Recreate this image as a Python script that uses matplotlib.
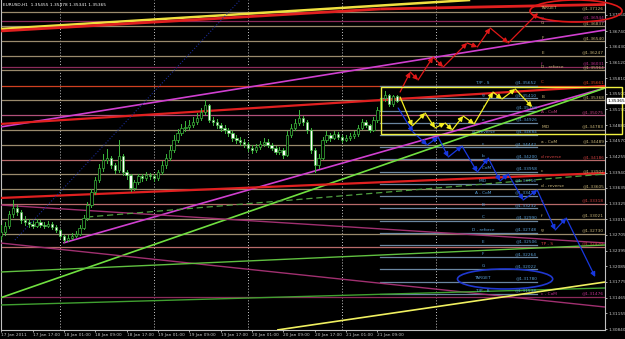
import matplotlib
matplotlib.use("Agg")
import matplotlib.pyplot as plt
from matplotlib.patches import Ellipse, Rectangle
from matplotlib.transforms import blended_transform_factory

# ---------------- data ----------------
title = "EURUSD,H1  1.35455 1.35478 1.35341 1.35365"
last_price = 1.35365

opens = [1.32680, 1.32763, 1.32882, 1.33120, 1.33239, 1.33159,
         1.33001, 1.32961, 1.32922, 1.32882, 1.32961, 1.32902, 1.32882, 1.32922, 1.32862,
         1.32803, 1.32684, 1.32605, 1.32644, 1.32684,
         1.32723, 1.32842, 1.33041, 1.33298, 1.33555,
         1.33793, 1.34031, 1.34189, 1.34229, 1.34090, 1.33991, 1.34268, 1.33951,
         1.33892, 1.33635,
         1.33753, 1.33872, 1.33833, 1.33892, 1.33872, 1.33833,
         1.33951, 1.34090, 1.34229, 1.34387, 1.34585, 1.34724, 1.34823,
         1.34842, 1.34882, 1.34941, 1.35021, 1.35139, 1.35278,
         1.34981, 1.34941, 1.34882, 1.34823, 1.34783, 1.34724, 1.34625, 1.34585,
         1.34545, 1.34506, 1.34427, 1.34387, 1.34446, 1.34506, 1.34545, 1.34486, 1.34427, 1.34347,
         1.34387, 1.34288, 1.34684, 1.34823, 1.34922, 1.35021,
         1.34941, 1.34783, 1.34387, 1.34090,
         1.34229, 1.34585, 1.34684, 1.34625, 1.34704, 1.34644, 1.34585, 1.34625, 1.34664,
         1.34704, 1.34823, 1.34941, 1.34882, 1.34783,
         1.34981, 1.35179, 1.35417, 1.35476, 1.35298, 1.35455]
closes = [1.32763, 1.32882, 1.33120, 1.33239, 1.33159, 1.33001,
          1.32961, 1.32922, 1.32882, 1.32961, 1.32902, 1.32882, 1.32922, 1.32862, 1.32803,
          1.32684, 1.32605, 1.32644, 1.32684, 1.32723,
          1.32842, 1.33041, 1.33298, 1.33555, 1.33793,
          1.34031, 1.34189, 1.34229, 1.34090, 1.33991, 1.34268, 1.33951, 1.33892,
          1.33635, 1.33753,
          1.33872, 1.33833, 1.33892, 1.33872, 1.33833, 1.33951,
          1.34090, 1.34229, 1.34387, 1.34585, 1.34724, 1.34823, 1.34842,
          1.34882, 1.34941, 1.35021, 1.35139, 1.35278, 1.34981,
          1.34941, 1.34882, 1.34823, 1.34783, 1.34724, 1.34625, 1.34585, 1.34545,
          1.34506, 1.34427, 1.34387, 1.34446, 1.34506, 1.34545, 1.34486, 1.34427, 1.34347, 1.34387,
          1.34288, 1.34684, 1.34823, 1.34922, 1.35021, 1.34941,
          1.34783, 1.34387, 1.34090, 1.34229,
          1.34585, 1.34684, 1.34625, 1.34704, 1.34644, 1.34585, 1.34625, 1.34664, 1.34704,
          1.34823, 1.34941, 1.34882, 1.34783, 1.34981,
          1.35179, 1.35417, 1.35476, 1.35298, 1.35455, 1.35365]
highs = [1.32900, 1.32960, 1.33180, 1.33400, 1.33300, 1.33200,
         1.33080, 1.33020, 1.32980, 1.33020, 1.33000, 1.32960, 1.32980, 1.32960, 1.32900,
         1.32820, 1.32700, 1.32700, 1.32740, 1.32780,
         1.32900, 1.33100, 1.33360, 1.33620, 1.33860,
         1.34100, 1.34300, 1.34400, 1.34260, 1.34120, 1.34585, 1.34300, 1.34000,
         1.33920, 1.33800,
         1.33920, 1.33920, 1.33960, 1.33940, 1.33920, 1.34000,
         1.34160, 1.34300, 1.34460, 1.34680, 1.34800, 1.34900, 1.34960,
         1.34980, 1.35040, 1.35120, 1.35220, 1.35377, 1.35300,
         1.35040, 1.35000, 1.34920, 1.34880, 1.34820, 1.34760, 1.34680, 1.34640,
         1.34600, 1.34540, 1.34480, 1.34500, 1.34560, 1.34620, 1.34600, 1.34520, 1.34460, 1.34440,
         1.34420, 1.34760, 1.34900, 1.35000, 1.35180, 1.35060,
         1.34980, 1.34820, 1.34420, 1.34300,
         1.34640, 1.34760, 1.34720, 1.34760, 1.34740, 1.34680, 1.34680, 1.34720, 1.34760,
         1.34880, 1.35000, 1.34980, 1.34900, 1.35040,
         1.35240, 1.35634, 1.35560, 1.35500, 1.35480, 1.35478]
lows = [1.32620, 1.32700, 1.32840, 1.33060, 1.33100, 1.32950,
        1.32900, 1.32860, 1.32840, 1.32860, 1.32860, 1.32840, 1.32860, 1.32820, 1.32760,
        1.32640, 1.32560, 1.32580, 1.32620, 1.32660,
        1.32700, 1.32820, 1.33000, 1.33260, 1.33520,
        1.33760, 1.33980, 1.34120, 1.34040, 1.33940, 1.33960, 1.33900, 1.33820,
        1.33580, 1.33600,
        1.33720, 1.33780, 1.33800, 1.33820, 1.33780, 1.33800,
        1.33920, 1.34040, 1.34180, 1.34340, 1.34540, 1.34680, 1.34760,
        1.34800, 1.34840, 1.34900, 1.34980, 1.35100, 1.34940,
        1.34880, 1.34820, 1.34760, 1.34720, 1.34660, 1.34560, 1.34520, 1.34480,
        1.34440, 1.34360, 1.34320, 1.34340, 1.34400, 1.34460, 1.34440, 1.34380, 1.34300, 1.34300,
        1.34220, 1.34260, 1.34640, 1.34780, 1.34880, 1.34880,
        1.34720, 1.34320, 1.33951, 1.34040,
        1.34200, 1.34540, 1.34560, 1.34600, 1.34600, 1.34540, 1.34560, 1.34580, 1.34620,
        1.34660, 1.34800, 1.34840, 1.34740, 1.34760,
        1.34940, 1.35140, 1.35360, 1.35260, 1.35260, 1.35341]

yticks = [1.37060, 1.36740, 1.36430, 1.36120, 1.35810, 1.35500, 1.35190, 1.34880,
          1.34570, 1.34255, 1.33940, 1.33635, 1.33325, 1.33015, 1.32705, 1.32395,
          1.32085, 1.31775, 1.31465, 1.31155, 1.30840]
xtick_bars = [0, 8, 16, 24, 32, 40, 48, 56, 64, 72, 80, 88, 96]
xtick_labels = ["17 Jan 2011", "17 Jan 17:00", "18 Jan 01:00", "18 Jan 09:00",
                "18 Jan 17:00", "19 Jan 01:00", "19 Jan 09:00", "19 Jan 17:00",
                "20 Jan 01:00", "20 Jan 09:00", "20 Jan 17:00", "21 Jan 01:00",
                "21 Jan 09:00"]
day_separators = [15, 39, 63, 87, 111]

# right-hand level set
lvl_prices = [1.37126, 1.36944, 1.36837, 1.36540, 1.36247, 1.36031, 1.35964, 1.35661,
              1.35368, 1.35075, 1.34783, 1.34489, 1.34186, 1.33902, 1.33605, 1.33318,
              1.33021, 1.32730, 1.32470, 1.31476]
lvl_names = ["TARGET", "g", "G", "F", "E", "f", "D - reforce", "C", "B", "A - CoM", "MID",
             "a - CoM", "d reverse", "c", "d - reverse", "e", "f", "g", "TP - S", "c - CoM"]
lvl_kind = ["tan", "maroon", "tan", "tan", "tan", "maroon", "tan", "red", "tan", "pink", "tan",
            "tan", "salmon", "tan", "tan", "salmon", "tan", "tan", "salmon", "maroon"]

# blue level set
blue_prices = [1.35652, 1.35410, 1.35168, 1.34926, 1.34684, 1.34442, 1.34200, 1.33958,
               1.33716, 1.33474, 1.33232, 1.32990, 1.32748, 1.32506, 1.32264, 1.32022,
               1.31780, 1.31538]
blue_names = ["T/P - S", "g", "f", "e", "d - reverse", "c", "b", "a - CoM", "MID",
              "A - CoM", "B", "C", "D - reforce", "E", "F", "G", "TARGET", "T/P - B"]

# trend lines: (bar0, price0, bar1, price1, color, width, style)
trend_lines = [
    (-0.3, 1.36783, 119.7, 1.37357, "#f0e040", 1.8, "-"),
    (-0.3, 1.36743, 96.7, 1.37179, "#e02020", 2.0, "-"),
    (96.7, 1.37179, 154.1, 1.37268, "#e02020", 2.0, "-"),
    (-0.3, 1.34842, 154.1, 1.36763, "#d040d0", 1.2, "-"),
    (15.8, 1.32546, 154.1, 1.35615, "#d040d0", 1.2, "-"),
    (-0.3, 1.31457, 154.1, 1.35615, "#70e040", 1.2, "-"),
    (-0.3, 1.34902, 154.1, 1.35654, "#e02020", 1.6, "-"),
    (-0.3, 1.33437, 154.1, 1.33932, "#e02020", 1.6, "-"),
    (-0.3, 1.33298, 154.1, 1.32546, "#a03070", 1.0, "-"),
    (-0.3, 1.32546, 154.1, 1.31278, "#a03070", 1.0, "-"),
    (-0.3, 1.31971, 154.1, 1.32506, "#60c040", 1.0, "-"),
    (-0.3, 1.31318, 154.1, 1.31655, "#40a030", 1.0, "-"),
    (21.9, 1.33060, 154.1, 1.33912, "#50a040", 0.9, (0, (5, 3))),
    (70.4, 1.30823, 154.1, 1.31773, "#f0f060", 1.2, "-"),
    (3.5, 1.32605, 60.95, 1.37357, "#1a2a90", 0.8, ":"),
]

# projected paths (bar, price)
red_bars = [101.8, 104.4, 106.4, 110.2, 112.8, 118.9, 121.5, 124.8, 129.4, 137.0]
red_prices = [1.35535, 1.35931, 1.35773, 1.36228, 1.36030, 1.36506, 1.36426, 1.36803, 1.36506, 1.37100]
yel_bars = [101.8, 104.9, 108.2, 110.7, 113.3, 115.1, 117.9, 120.7, 125.5, 127.8, 131.2, 135.5]
yel_prices = [1.35436, 1.34862, 1.35120, 1.34823, 1.34922, 1.34783, 1.35060, 1.34902,
              1.35535, 1.35397, 1.35595, 1.35238]
blu_bars = [101.3, 105.1, 108.7, 111.5, 114.1, 117.6, 121.5, 124.3, 127.3, 129.4, 133.2,
            136.8, 141.4, 144.2, 151.6]
blu_prices = [1.35219, 1.34743, 1.34486, 1.34644, 1.34248, 1.34466, 1.33951, 1.34229,
              1.33773, 1.33912, 1.33397, 1.33595, 1.32803, 1.33041, 1.31872]

# ---------------- figure ----------------
W, H = 625, 339
fig = plt.figure(figsize=(W / 100, H / 100), dpi=100, facecolor="black")
ax = fig.add_axes([1 / W, 9 / H, 604 / W, 330 / H], facecolor="black")
XMIN, XMAX = -0.064, 154.1
YMIN, YMAX = 1.30823, 1.37357
ax.set_xlim(XMIN, XMAX)
ax.set_ylim(YMIN, YMAX)

FS = 3.1
colors = {"tan": "#9a8a6c", "maroon": "#8c2a5a", "red": "#d04020", "pink": "#b0507a", "salmon": "#b86a6a"}
text_colors = {"tan": "#c8b478", "maroon": "#c03090", "red": "#e04020", "pink": "#c04080", "salmon": "#d04040"}

# day separators
for b in day_separators:
    ax.axvline(b, color="#c8c8c8", lw=0.7, ls=(0, (1, 2)), zorder=1)

# levels
for p, n, k in zip(lvl_prices, lvl_names, lvl_kind):
    ax.axhline(p, color=colors[k], lw=0.9, zorder=2)
    ax.text(137.8, p + 0.00025, n, color=text_colors[k], fontsize=FS, va="bottom", ha="left", zorder=6)
    ax.text(153.9, p + 0.00025, "@" + f"{p:.5f}", color=text_colors[k], fontsize=FS,
            va="bottom", ha="right", zorder=6)

# blue fib set
for p, n in zip(blue_prices, blue_names):
    ax.plot([96.7, 136.8], [p, p], color="#6a86a0", lw=0.9, zorder=2)
    ax.text(123.0, p + 0.00025, n, color="#5aa0d8", fontsize=FS, va="bottom", ha="center", zorder=6)
    ax.text(136.8, p + 0.00025, "@" + f"{p:.5f}", color="#5aa0d8", fontsize=FS,
            va="bottom", ha="right", zorder=6)

# trend lines
for b0, p0, b1, p1, c, w, s in trend_lines:
    ax.plot([b0, b1], [p0, p1], color=c, lw=w, ls=s, zorder=3, solid_capstyle="butt")

# candles
for i, (o, hi, lo, c) in enumerate(zip(opens, highs, lows, closes)):
    ax.plot([i, i], [lo, hi], color="#3cb83c", lw=0.7, zorder=4)
    bot, top = min(o, c), max(o, c)
    face = "white" if c < o else "black"
    ax.add_patch(Rectangle((i - 0.3, bot), 0.6, max(top - bot, 0.00003),
                           facecolor=face, edgecolor="#3cb83c", lw=0.5, zorder=5))

# paths with arrows
def draw_path(bx, py, color):
    for j in range(len(bx) - 1):
        ax.annotate("", xy=(bx[j + 1], py[j + 1]), xytext=(bx[j], py[j]),
                    arrowprops=dict(arrowstyle="-|>", color=color, lw=0.9,
                                    mutation_scale=7, shrinkA=0, shrinkB=0), zorder=7)

draw_path(red_bars, red_prices, "#e01818")
draw_path(yel_bars, yel_prices, "#f5f020")
draw_path(blu_bars, blu_prices, "#1838e0")

# ellipses and box
ax.add_patch(Ellipse((146.7, 1.37139), 23.5, 0.00436, fill=False, edgecolor="#e01818",
                     lw=1.2, zorder=8, clip_on=False))
ax.add_patch(Ellipse((128.6, 1.31833), 24.3, 0.00396, fill=False, edgecolor="#2038d0",
                     lw=1.2, zorder=8))
ax.add_patch(Rectangle((96.95, 1.34704), 61.5, 0.00930, fill=False, edgecolor="#f0f040",
                       lw=1.0, zorder=8, clip_on=False))

# axes styling
ax.spines["top"].set_visible(False)
for s in ["left", "right", "bottom"]:
    ax.spines[s].set_color("#c0c0c0")
    ax.spines[s].set_linewidth(0.8)
ax.yaxis.tick_right()
ax.set_yticks(yticks)
ax.set_yticklabels([f"{v:.5f}" for v in yticks])
ax.set_xticks(xtick_bars)
ax.set_xticklabels(xtick_labels, ha="left")
ax.tick_params(axis="both", colors="#c8c8c8", labelsize=FS, length=1.5, width=0.6, pad=0.8)

# current price marker
trans = blended_transform_factory(ax.transAxes, ax.transData)
ax.text(1.004, last_price, f"{last_price:.5f}", transform=trans, fontsize=FS, color="black",
        va="center", ha="left", zorder=10,
        bbox=dict(boxstyle="square,pad=0.15", facecolor="white", edgecolor="white"))

fig.text(3 / W, 1 - 5 / H, title, color="white", fontsize=3.1, va="center", ha="left")

fig.savefig("out.png", dpi=100, facecolor="black")
